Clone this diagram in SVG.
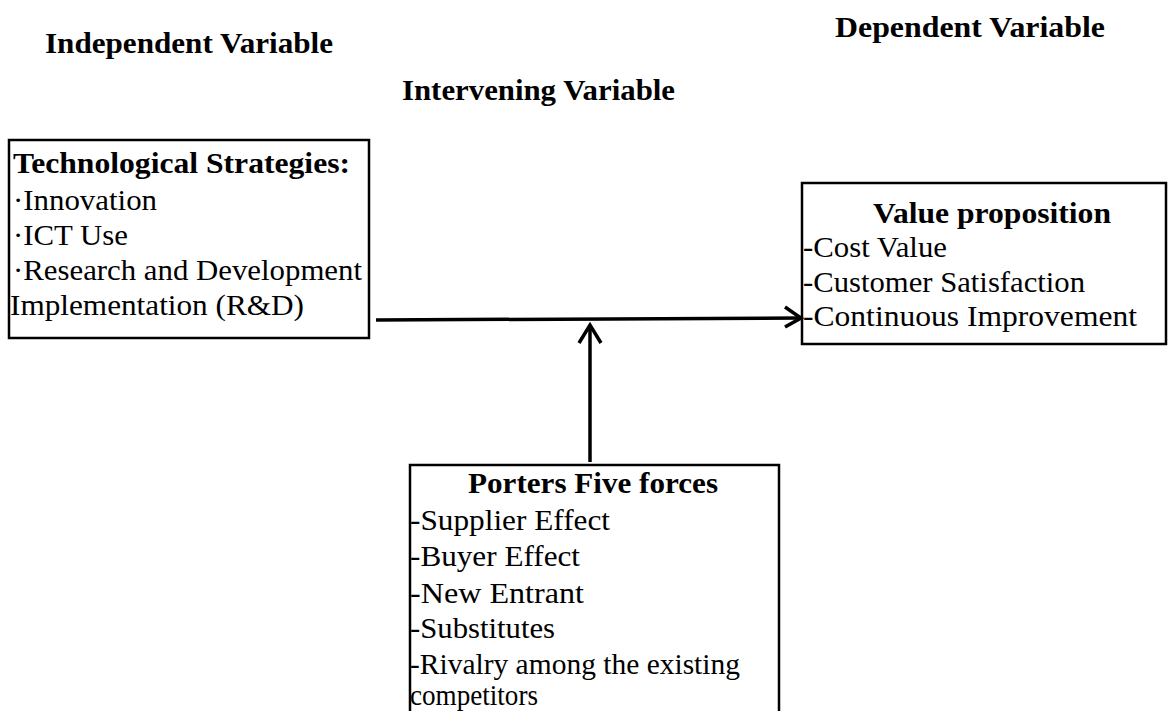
<svg xmlns="http://www.w3.org/2000/svg" width="1168" height="711" viewBox="0 0 1168 711">
<style>
text{font-family:"Liberation Serif","Times New Roman",serif;font-size:29px;fill:#000}
.b{font-weight:bold}
.box{fill:#fff;stroke:#000;stroke-width:2.5}
.ln{fill:none;stroke:#000;stroke-width:3.5;stroke-linecap:butt;stroke-linejoin:miter}
</style>
<rect width="1168" height="711" fill="#fff"/>
<g id="headers">
<text class="b" x="45" y="53" textLength="288" lengthAdjust="spacingAndGlyphs">Independent Variable</text>
<text class="b" x="835" y="37" textLength="270" lengthAdjust="spacingAndGlyphs">Dependent Variable</text>
<text class="b" x="402" y="100" textLength="273" lengthAdjust="spacingAndGlyphs">Intervening Variable</text>
</g>
<g id="tech">
<rect class="box" x="9" y="140" width="360" height="198"/>
<text class="b" x="13" y="173" textLength="337" lengthAdjust="spacingAndGlyphs">Technological Strategies:</text>
<text x="13" y="210" textLength="144" lengthAdjust="spacingAndGlyphs">·Innovation</text>
<text x="13" y="245" textLength="115" lengthAdjust="spacingAndGlyphs">·ICT Use</text>
<text x="13" y="280" textLength="349" lengthAdjust="spacingAndGlyphs">·Research and Development</text>
<text x="10" y="315" textLength="294" lengthAdjust="spacingAndGlyphs">Implementation (R&amp;D)</text>
</g>
<g id="value">
<rect class="box" x="802" y="183" width="364" height="161"/>
<text class="b" x="992" y="223" text-anchor="middle" textLength="238" lengthAdjust="spacingAndGlyphs">Value proposition</text>
<text x="803" y="257" textLength="144" lengthAdjust="spacingAndGlyphs">-Cost Value</text>
<text x="803" y="292" textLength="282" lengthAdjust="spacingAndGlyphs">-Customer Satisfaction</text>
<text x="803" y="326" textLength="334" lengthAdjust="spacingAndGlyphs">-Continuous Improvement</text>
</g>
<g id="porters">
<rect class="box" x="410" y="465" width="369" height="260"/>
<text class="b" x="593" y="493" text-anchor="middle" textLength="250" lengthAdjust="spacingAndGlyphs">Porters Five forces</text>
<text x="410" y="530" textLength="200" lengthAdjust="spacingAndGlyphs">-Supplier Effect</text>
<text x="410" y="566" textLength="170" lengthAdjust="spacingAndGlyphs">-Buyer Effect</text>
<text x="410" y="603" textLength="174" lengthAdjust="spacingAndGlyphs">-New Entrant</text>
<text x="410" y="638" textLength="145" lengthAdjust="spacingAndGlyphs">-Substitutes</text>
<text x="410" y="674" textLength="330" lengthAdjust="spacingAndGlyphs">-Rivalry among the existing</text>
<text x="410" y="705" textLength="128" lengthAdjust="spacingAndGlyphs">competitors</text>
</g>
<g id="connectors">
<path class="ln" d="M376 320 L801 318"/>
<path class="ln" d="M785 307 L801 318 L785 327"/>
<path class="ln" d="M590 462 L590 325"/>
<path class="ln" d="M579 343 L590 325 L601 343"/>
</g>
</svg>
